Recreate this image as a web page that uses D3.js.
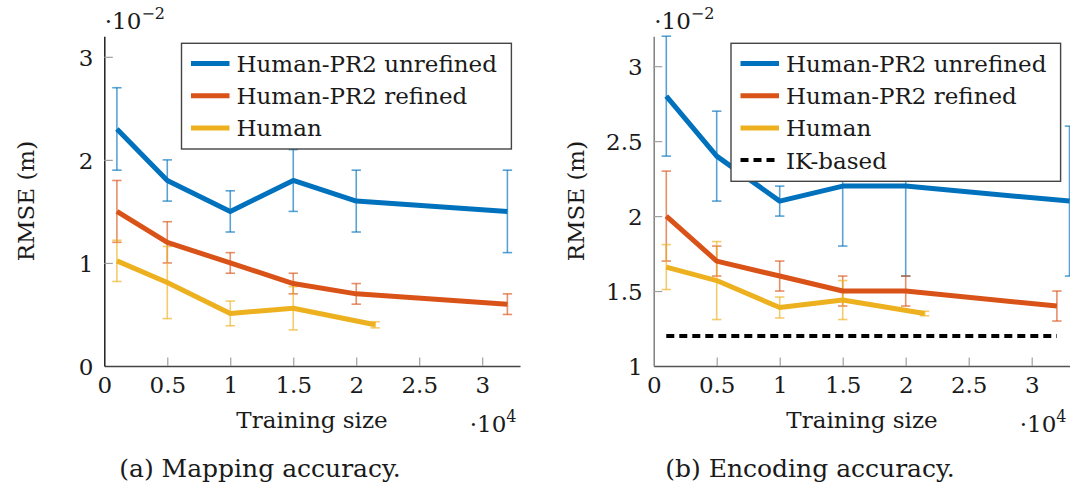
<!DOCTYPE html>
<html>
<head>
<meta charset="utf-8">
<script src="https://cdn.jsdelivr.net/npm/d3@7"></script>
<style>
  html, body { margin: 0; padding: 0; background: #fff; }
  svg { display: block; }
  text { font-family: "DejaVu Serif", "Liberation Serif", "Times New Roman", Tinos, "Noto Serif", FreeSerif, serif; fill: #1a1a1a; }
</style>
</head>
<body>
<svg id="chart" width="1070" height="491"></svg>
<script>
// ---------------- DATA ----------------
const xTicks = [0, 0.5, 1, 1.5, 2, 2.5, 3];
const yTicksA = [0, 1, 2, 3];
const yTicksB = [1, 1.5, 2, 2.5, 3];
const seriesNames = ["Human-PR2 unrefined", "Human-PR2 refined", "Human", "IK-based"];

// Panel (a) Mapping accuracy  (x in 1e4 samples, y in 1e-2 m)
const a_unrefined_x = [0.1, 0.5, 1, 1.5, 2, 3.2];
const a_unrefined_y = [2.3, 1.8, 1.5, 1.8, 1.6, 1.5];
const a_unrefined_e = [0.4, 0.2, 0.2, 0.3, 0.3, 0.4];
const a_refined_x = [0.1, 0.5, 1, 1.5, 2, 3.2];
const a_refined_y = [1.5, 1.2, 1.0, 0.8, 0.7, 0.6];
const a_refined_e = [0.3, 0.2, 0.1, 0.1, 0.1, 0.1];
const a_human_x = [0.1, 0.5, 1, 1.5, 2.15];
const a_human_y = [1.02, 0.81, 0.51, 0.56, 0.40];
const a_human_e = [0.2, 0.35, 0.12, 0.21, 0.03];

// Panel (b) Encoding accuracy
const b_unrefined_x = [0.1, 0.5, 1, 1.5, 2, 3.3];
const b_unrefined_y = [2.8, 2.4, 2.1, 2.2, 2.2, 2.1];
const b_unrefined_e = [0.4, 0.3, 0.1, 0.4, 0.6, 0.5];
const b_refined_x = [0.1, 0.5, 1, 1.5, 2, 3.2];
const b_refined_y = [2.0, 1.7, 1.6, 1.5, 1.5, 1.4];
const b_refined_e = [0.3, 0.1, 0.1, 0.1, 0.1, 0.1];
const b_human_x = [0.1, 0.5, 1, 1.5, 2.15];
const b_human_y = [1.66, 1.57, 1.39, 1.44, 1.35];
const b_human_e = [0.15, 0.26, 0.07, 0.13, 0.015];
const b_ik_x = [0.1, 0.5, 1, 1.5, 2, 3.2];
const b_ik_y = [1.2, 1.2, 1.2, 1.2, 1.2, 1.2];

const colors = ["#0072BD", "#D95319", "#EDB120", "#000000"];
// --------------------------------------

const svg = d3.select("#chart");
const FS = 23;

function zip(xs, ys, es) { return xs.map((x, i) => ({x, y: ys[i], e: es ? es[i] : 0})); }

function panel(cfg) {
  const x = d3.scaleLinear().domain([0, 3.3]).range([cfg.x0, cfg.x1]);
  const y = d3.scaleLinear().domain(cfg.ydom).range([366, 36.2]);
  const g = svg.append("g");

  // axes
  const xAxis = d3.axisBottom(x).tickValues(xTicks).tickSizeInner(-8.5).tickSizeOuter(0).tickPadding(10)
    .tickFormat(d => d3.format("")(d));
  const gx = g.append("g").attr("transform", `translate(0,${y.range()[0]})`).call(xAxis);
  gx.attr("font-family", null);
  gx.select(".domain").attr("stroke", cfg.xAxisColor).attr("stroke-width", 1.4);
  gx.selectAll(".tick line").attr("stroke", "#a0a0a0").attr("stroke-width", 1.2)
    .attr("display", d => d === 0 ? "none" : null);
  gx.selectAll(".tick text").attr("font-size", FS).attr("fill", "#1a1a1a").attr("dy", "0.75em");

  const yAxis = d3.axisLeft(y).tickValues(cfg.yticks).tickSizeInner(-8.5).tickSizeOuter(0).tickPadding(11)
    .tickFormat(d => d3.format("")(d));
  const gy = g.append("g").attr("transform", `translate(${cfg.x0},0)`).call(yAxis);
  gy.attr("font-family", null);
  gy.select(".domain").attr("stroke", cfg.yAxisColor).attr("stroke-width", 1.4);
  gy.selectAll(".tick line").attr("stroke", "#a0a0a0").attr("stroke-width", 1.2)
    .attr("display", d => d === cfg.ydom[0] ? "none" : null);
  gy.selectAll(".tick text").attr("font-size", FS).attr("fill", "#1a1a1a").attr("dy", "0.36em");

  // series
  const line = d3.line().x(d => x(d.x)).y(d => y(d.y));
  const plot = g.append("g");
  cfg.series.forEach((s, si) => {
    const data = s.data;
    if (s.err) {
      const eg = plot.append("g").attr("stroke", s.color).attr("stroke-opacity", 0.65).attr("stroke-width", 1.6).attr("fill", "none");
      data.forEach(d => {
        eg.append("line").attr("x1", x(d.x)).attr("x2", x(d.x)).attr("y1", y(d.y - d.e)).attr("y2", y(d.y + d.e));
        [d.y - d.e, d.y + d.e].forEach(v => {
          eg.append("line").attr("x1", x(d.x) - 4.7).attr("x2", x(d.x) + 4.7).attr("y1", y(v)).attr("y2", y(v));
        });
      });
    }
  });
  cfg.series.forEach(s => {
    plot.append("path").datum(s.data).attr("d", line).attr("fill", "none")
      .attr("stroke", s.color).attr("stroke-width", s.dash ? 4 : 5)
      .attr("stroke-linejoin", "round")
      .attr("stroke-dasharray", s.dash ? "8,5" : null);
  });

  // exponent labels
  const e1 = g.append("text").attr("x", cfg.x0 + 0.5).attr("y", 29).attr("font-size", FS);
  e1.append("tspan").text("·10");
  e1.append("tspan").attr("font-size", 16).attr("dy", -10).text("−2");
  const e2 = g.append("text").attr("x", cfg.x4).attr("y", 432).attr("font-size", FS).attr("text-anchor", "end");
  e2.append("tspan").text("·10");
  e2.append("tspan").attr("font-size", 16).attr("dy", -10).text("4");

  // axis titles
  g.append("text").attr("x", cfg.xc).attr("y", 428).attr("text-anchor", "middle").attr("font-size", FS).text("Training size");
  g.append("text").attr("transform", `translate(${cfg.ylx},${(y.range()[0] + y.range()[1]) / 2}) rotate(-90)`)
    .attr("text-anchor", "middle").attr("font-size", FS).text("RMSE (m)");

  // caption
  g.append("text").attr("x", cfg.capx).attr("y", 477).attr("text-anchor", "middle").attr("font-size", 25).text(cfg.caption);

  // legend
  const lg = g.append("g");
  lg.append("rect").attr("x", cfg.lx0).attr("y", 43.3).attr("width", cfg.lx1 - cfg.lx0).attr("height", cfg.lh)
    .attr("fill", "#fff").attr("stroke", "#444").attr("stroke-width", 1.4);
  cfg.series.forEach((s, i) => {
    const cy = 63.5 + i * 32.2;
    lg.append("line").attr("x1", cfg.lx0 + 9.5).attr("x2", cfg.lx0 + 48).attr("y1", cy).attr("y2", cy)
      .attr("stroke", s.color).attr("stroke-width", s.dash ? 4 : 5).attr("stroke-dasharray", s.dash ? "8,5" : null);
    lg.append("text").attr("x", cfg.lx0 + 55).attr("y", cy + 8.5).attr("font-size", FS).text(s.name);
  });
}

panel({
  x0: 104.3, x1: 520, ydom: [0, 3.2], yticks: yTicksA,
  xAxisColor: "#444", yAxisColor: "#111",
  x4: 516.5, xc: 312, ylx: 34, capx: 260, caption: "(a) Mapping accuracy.",
  lx0: 181.5, lx1: 511.4, lh: 105.7,
  series: [
    {name: seriesNames[0], color: colors[0], err: true, data: zip(a_unrefined_x, a_unrefined_y, a_unrefined_e)},
    {name: seriesNames[1], color: colors[1], err: true, data: zip(a_refined_x, a_refined_y, a_refined_e)},
    {name: seriesNames[2], color: colors[2], err: true, data: zip(a_human_x, a_human_y, a_human_e)}
  ]
});

panel({
  x0: 653.7, x1: 1069.5, ydom: [1, 3.2], yticks: yTicksB,
  xAxisColor: "#555", yAxisColor: "#777",
  x4: 1066.5, xc: 862, ylx: 584, capx: 810, caption: "(b) Encoding accuracy.",
  lx0: 731, lx1: 1060.6, lh: 138,
  series: [
    {name: seriesNames[0], color: colors[0], err: true, data: zip(b_unrefined_x, b_unrefined_y, b_unrefined_e)},
    {name: seriesNames[1], color: colors[1], err: true, data: zip(b_refined_x, b_refined_y, b_refined_e)},
    {name: seriesNames[2], color: colors[2], err: true, data: zip(b_human_x, b_human_y, b_human_e)},
    {name: seriesNames[3], color: colors[3], err: false, dash: true, data: zip(b_ik_x, b_ik_y)}
  ]
});
</script>
</body>
</html>
